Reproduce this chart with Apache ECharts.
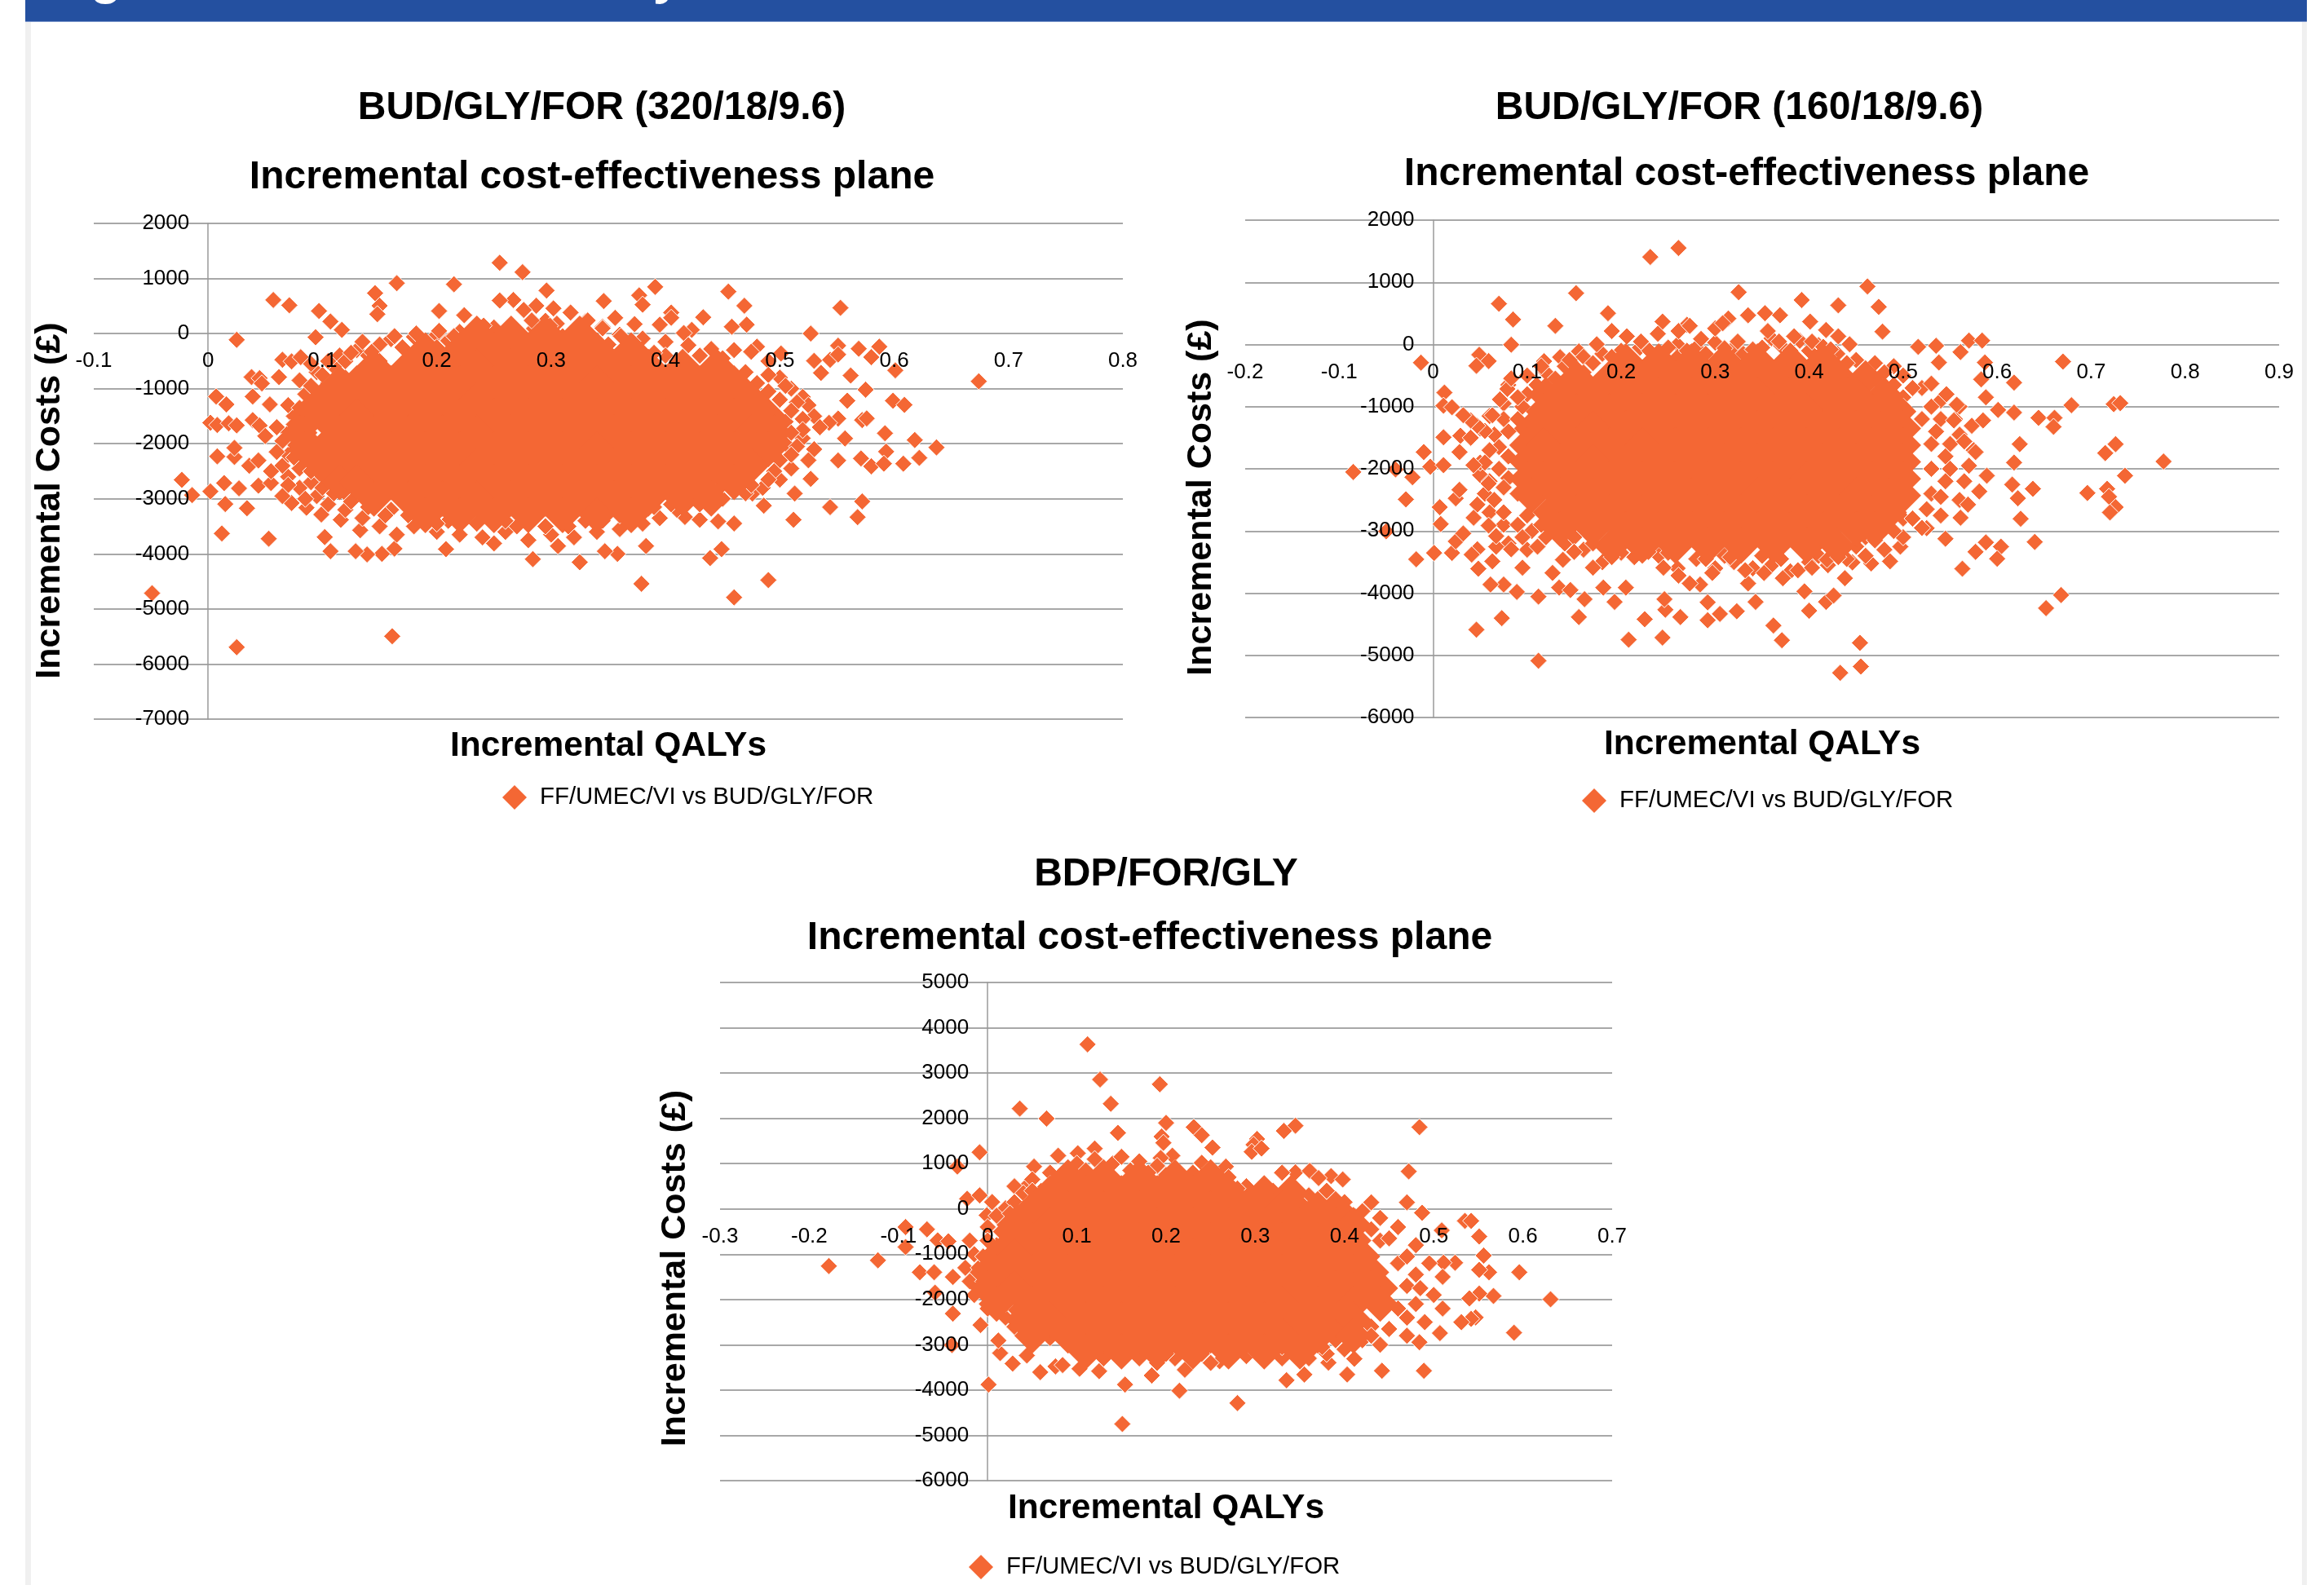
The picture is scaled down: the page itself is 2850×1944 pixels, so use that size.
<!DOCTYPE html>
<html><head><meta charset="utf-8">
<style>html,body{margin:0;padding:0;background:#fff}#c{width:2850px;height:1944px}</style>
<script src="https://cdn.jsdelivr.net/npm/echarts@6/dist/echarts.min.js"></script>
</head><body><div id="c"></div>
<script>
const seriesName = 'FF/UMEC/VI vs BUD/GLY/FOR';
const xTitle = 'Incremental QALYs';
const yTitle = 'Incremental Costs (£)';
const planeTitle = 'Incremental cost-effectiveness plane';
const chartTitles = ['BUD/GLY/FOR (320/18/9.6)', 'BUD/GLY/FOR (160/18/9.6)', 'BDP/FOR/GLY'];

// Individually visible points: [QALY, cost]
const chart1Points = [[.255,1286],[.275,1114],[.165,914],[.215,895],[.146,733],[.296,781],[.391,848],[.377,695],[.455,762],[.057,610],[.071,514],[.469,505],[.553,467],[.097,410],[.267,610],[.255,600],[.287,505],[.346,590],[.302,457],[.317,381],[.276,429],[.202,410],[.15,505],[.148,352],[.38,524],[.405,381],[.405,286],[.107,219],[.224,333],[.356,286],[.433,295],[.373,171],[.395,162],[.471,162],[.458,124],[.423,67],[.416,10],[.527,0],[.117,67],[.025,-114],[.094,-67],[.551,-219],[.569,-276],[.587,-238],[.58,-429],[.501,-362],[.48,-238],[.601,-667],[.674,-867],[.53,-495],[.544,-476],[.551,-381],[.536,-714],[.562,-762],[.065,-476],[.073,-505],[.081,-429],[.038,-790],[.045,-810],[.047,-905],[.062,-790],[.007,-1143],[.016,-1286],[.039,-1143],[.575,-1019],[.559,-1219],[.599,-1219],[.609,-1295],[.572,-1571],[.576,-1540],[.551,-1543],[.543,-1620],[.592,-1810],[.557,-1905],[.618,-1933],[.637,-2067],[.593,-2143],[.622,-2257],[.551,-2305],[.571,-2267],[.58,-2410],[.591,-2362],[.608,-2362],[.527,-2638],[.513,-2905],[.544,-3152],[.572,-3048],[.568,-3333],[.512,-3381],[.486,-3124],[.476,-2905],[.46,-3448],[.446,-3410],[.43,-3380],[.417,-3330],[.439,-4076],[.449,-3914],[.49,-4476],[.46,-4790],[.379,-4543],[.383,-3857],[.358,-4000],[.347,-3952],[.325,-4152],[.306,-3857],[.284,-4095],[.25,-3810],[.208,-3914],[.163,-3905],[.152,-4000],[.139,-4010],[.129,-3952],[.107,-3952],[.102,-3695],[.161,-5495],[.025,-5695],[-.049,-4714],[.053,-3724],[.012,-3629],[.034,-3171],[.015,-3095],[.027,-2810],[.014,-2714],[.002,-2867],[-.023,-2657],[-.014,-2933],[.044,-2762],[.055,-2714],[.036,-2400],[.044,-2305],[.008,-2229],[.023,-2240],[.023,-2076],[.002,-1619],[.008,-1660],[.018,-1630],[.025,-1667],[.054,-1286],[.039,-1570],[.045,-1670],[.05,-1860],[.073,-3076],[.086,-3162],[.099,-3286],[.116,-3381],[.133,-3571],
[.16,-100],[.18,-60],[.2,-20],[.22,30],[.235,160],[.25,110],[.26,40],[.285,90],[.295,230],[.305,180],[.32,60],[.33,220],[.345,120],[.36,-20],[.38,-90],[.4,-150],[.42,-210],[.44,-280],[.46,-300],[.475,-330],[.49,-500],[.5,-800],[.51,-1000],[.52,-1150],[.525,-1300],[.53,-1500],[.535,-1700],[.52,-1900],[.53,-2100],[.525,-2300],[.51,-2450],[.5,-2650],[.485,-2800],[.47,-2900],[.45,-3000],[.43,-3100],[.41,-3200],[.395,-3350],[.38,-3450],[.36,-3550],[.34,-3600],[.32,-3700],[.3,-3650],[.28,-3750],[.26,-3600],[.24,-3700],[.22,-3650],[.2,-3600],[.18,-3500],[.165,-3650],[.15,-3500],[.135,-3350],[.12,-3200],[.105,-3100],[.095,-2950],[.08,-2800],[.07,-2600],[.065,-2400],[.07,-2200],[.075,-2000],[.07,-1800],[.075,-1500],[.07,-1300],[.085,-1100],[.08,-850],[.095,-700],[.11,-600],[.115,-400],[.13,-300],[.15,-200],
[.2,-250],[.25,-150],[.3,-100],[.35,-200],[.4,-400],[.45,-600],[.48,-900],[.5,-1200],[.505,-1600],[.505,-2000],[.5,-2300],[.47,-2600],[.43,-2900],[.38,-3200],[.33,-3400],[.27,-3500],[.21,-3400],[.16,-3200],[.12,-2900],[.1,-2600],[.085,-2300],[.09,-1900],[.09,-1500],[.1,-1100],[.12,-800],[.15,-500],
[.06,-1700],[.065,-1950],[.06,-2150],[.055,-2500],[.07,-2750],[.065,-2950],[.085,-3000],[.09,-2700],[.08,-2450],[.075,-2250],[.085,-2100],[.08,-1900],[.075,-1650],[.09,-1700],[.08,-1350],[.095,-1300],[.09,-950],[.105,-900],[.1,-750],[.115,-750],[.105,-500],[.12,-500],[.09,-550],[.125,-350],[.14,-400],[.135,-150],[.17,-250],[.185,-350],[.19,-150],[.21,-130],[.225,-280],[.24,-50],[.27,-60],[.28,-200],[.31,-50],[.335,-100],[.37,-300],[.39,-350],[.41,-500],[.43,-400],[.45,-450],[.47,-700],[.49,-750],[.46,-800],[.505,-950],[.49,-1050],[.515,-1250],[.51,-1400],[.52,-1550],[.52,-1750],[.51,-1800],[.515,-2050],[.51,-2200],[.495,-2500],[.49,-2650],[.475,-2750],[.46,-2800],[.445,-2850],[.44,-3050],[.42,-3000],[.405,-3100],[.39,-3150],[.375,-3300],[.36,-3300],[.345,-3400],[.315,-3500],[.295,-3500],[.26,-3400],[.235,-3450],[.2,-3450],[.175,-3300],[.155,-3300],[.14,-3150],[.125,-3050],[.11,-2900],[.1,-2800],[.09,-2500],[.095,-2300],[.1,-2100],
[.143,-333],[.163,-48],[.182,0],[.202,48],[.215,-48],[.241,143],[.26,-95],[.283,238],[.299,143],[.319,-48],[.332,238],[.345,95],[.361,-48],[.371,-143]];
const chart2Points = [[.261,1552],[.231,1408],[.462,934],[.152,825],[.325,841],[.392,715],[.07,655],[.431,630],[.474,605],[.085,402],[.186,503],[.244,368],[.27,317],[.13,300],[.314,418],[.335,470],[.353,503],[.369,470],[.401,368],[.418,233],[.478,207],[.516,-38],[.535,-21],[.538,-290],[.561,-122],[.57,63],[.584,63],[.587,-290],[.67,-275],[.583,-562],[.618,-613],[.588,-850],[.679,-977],[.724,-960],[.731,-943],[.644,-1180],[.661,-1180],[.66,-1324],[.601,-1053],[.618,-1095],[.624,-1603],[.726,-1603],[.715,-1747],[.777,-1882],[.736,-2110],[.618,-1899],[.638,-2322],[.616,-2254],[.622,-2474],[.696,-2389],[.717,-2322],[.719,-2449],[.726,-2617],[.72,-2702],[.625,-2803],[.64,-3176],[.604,-3252],[.6,-3446],[.588,-3184],[.577,-3336],[.563,-3607],[.668,-4030],[.652,-4241],[.433,-5282],[.455,-5180],[.454,-4799],[.371,-4757],[.362,-4520],[.4,-4283],[.418,-4140],[.426,-4038],[.323,-4292],[.305,-4334],[.292,-4436],[.292,-4148],[.263,-4385],[.244,-4715],[.225,-4419],[.208,-4749],[.247,-4267],[.246,-4097],[.112,-5087],[.155,-4385],[.073,-4402],[.046,-4588],[.112,-4055],[.089,-3980],[.075,-3861],[.061,-3861],[.048,-3607],[.063,-3488],[-.018,-3455],[.001,-3353],[.02,-3353],[-.05,-3006],[.008,-2888],[.007,-2617],[-.029,-2491],[-.022,-2135],[-.04,-2009],[-.085,-2051],[-.003,-1966],[.011,-1941],[-.01,-1730],[.011,-1493],[.029,-1468],[.028,-1730],[.012,-774],[.011,-985],[-.013,-292],[.049,-165],[.059,-267],[.046,-343],[.083,-4],[.024,-2474],[.028,-2338],[.024,-3167],[.032,-3040],[.047,-3294],[.041,-3379],[.134,-3911],[.146,-3950],[.161,-4097],[.181,-3911],[.193,-4140],[.205,-3911],[.284,-3861],[.335,-3844],[.343,-4140],[.395,-3971],[.438,-3760],[.446,-3505],[.466,-3522],[.486,-3488],[.497,-3252],[.545,-3125],[.525,-2955],[.155,-111],[.135,-204],[.118,-270],[.146,-270],
[.18,-150],[.2,-100],[.22,-50],[.24,-150],[.26,0],[.28,-50],[.3,30],[.32,-50],[.34,-100],[.36,100],[.37,-20],[.39,60],[.41,-10],[.43,-150],[.45,-250],[.47,-300],[.49,-350],[.5,-500],[.52,-700],[.54,-900],[.56,-1000],[.555,-1200],[.56,-1450],[.575,-1700],[.57,-1950],[.565,-2200],[.56,-2500],[.54,-2750],[.52,-2950],[.5,-3100],[.48,-3300],[.46,-3400],[.44,-3450],[.42,-3550],[.4,-3500],[.38,-3650],[.36,-3550],[.34,-3600],[.32,-3500],[.3,-3600],[.28,-3450],[.26,-3600],[.24,-3400],[.22,-3300],[.2,-3350],[.18,-3500],[.16,-3300],[.14,-3200],[.12,-3100],[.1,-3300],[.08,-3200],[.075,-2900],[.06,-2700],[.055,-2400],[.05,-2100],[.05,-1900],[.04,-1500],[.05,-1350],[.06,-1150],[.075,-950],[.08,-650],[.1,-500],[.12,-450],[.14,-350],[.16,-200],
[.2,-350],[.26,-200],[.33,-250],[.42,-350],[.47,-550],[.5,-850],[.52,-1200],[.53,-1600],[.53,-2000],[.53,-2400],[.5,-2800],[.46,-3100],[.4,-3300],[.33,-3350],[.26,-3300],[.19,-3100],[.13,-2800],[.1,-2500],[.08,-2150],[.08,-1800],[.08,-1400],[.095,-1000],[.12,-700],[.16,-450],
[.07,-2000],[.06,-2200],[.065,-2500],[.075,-2700],[.09,-2900],[.105,-3000],[.115,-2900],[.1,-2750],[.09,-2400],[.075,-2300],[.07,-1650],[.06,-1700],[.065,-1450],[.075,-1200],[.09,-1200],[.1,-800],[.09,-850],[.11,-650],[.13,-550],[.115,-350],[.145,-250],[.17,-300],[.19,-200],[.21,-200],[.23,-100],[.25,-50],[.27,-100],[.29,-150],[.31,-60],[.33,-150],[.35,-50],[.38,-100],[.4,-100],[.42,-200],[.44,-300],[.46,-400],[.48,-450],[.49,-650],[.51,-700],[.5,-1000],[.53,-1000],[.54,-1200],[.535,-1400],[.55,-1600],[.545,-1800],[.55,-2000],[.545,-2200],[.54,-2450],[.525,-2650],[.51,-2800],[.49,-3000],[.47,-3150],[.45,-3250],[.43,-3300],[.41,-3400],[.37,-3450],[.35,-3400],[.31,-3400],[.29,-3450],[.25,-3350],[.21,-3200],[.17,-3200],[.15,-3100],[.13,-3000],[.095,-3100],
[.174,4],[.19,216],[.206,131],[.221,47],[.239,173],[.261,216],[.273,300],[.285,89],[.3,258],[.308,342],[.324,47],[.34,-80],[.356,216],[.368,47],[.384,131],[.403,47],[.415,-38],[.423,-80],[.431,131],[.443,4],
[.067,-3252],[.095,-3590],[.111,-3252],[.127,-3675],[.138,-3463],[.15,-3336],[.17,-3590],[.19,-3420],[.214,-3420],[.229,-3336],[.245,-3590],[.261,-3717],[.273,-3844],[.297,-3675],[.316,-3420],[.332,-3632],[.352,-3675],[.372,-3760],[.388,-3632],[.403,-3590],[.419,-3463],[.431,-3420],
[.055,-1391],[.047,-1307],[.04,-1222],[.032,-1138],[.02,-1010],[.063,-1138],[.071,-884],[.079,-715],[.083,-546],[.055,-1899],[.043,-1941],[.059,-2237],[.047,-2575],[.043,-2787],[.059,-2913],[.067,-3082],[.083,-3294],
[.53,-630],[.546,-800],[.557,-969],[.554,-1222],[.573,-1307],[.565,-1560],[.585,-1222],[.577,-1730],[.589,-2110],[.581,-2364],[.569,-2575],[.561,-2787]];
const chart3Points = [[.112,3634],[.126,2857],[.193,2752],[.138,2321],[.036,2216],[.066,1995],[.2,1901],[.146,1680],[.195,1596],[.197,1460],[.231,1806],[.24,1628],[.252,1355],[.345,1838],[.332,1722],[.484,1806],[.302,1544],[.298,1418],[.296,1260],[.307,1334],[-.009,1250],[-.034,934],[.12,1334],[.472,829],[.345,808],[.361,840],[.385,724],[.371,681],[.398,650],[.267,934],[.24,1018],[.207,1176],[.194,1124],[.101,1229],[.079,1176],[.052,934],[.43,145],[.47,145],[.487,-85],[.509,-474],[.535,-264],[.542,-264],[.551,-610],[.556,-1030],[.596,-1398],[.631,-1996],[.567,-1922],[.562,-1398],[.551,-1345],[.551,-1870],[.54,-1975],[.524,-1188],[.511,-1188],[.59,-2733],[.547,-2396],[.542,-2428],[.531,-2501],[.507,-2743],[.484,-2943],[.489,-3573],[.442,-3573],[.411,-3310],[.403,-3657],[.382,-3394],[.355,-3657],[.335,-3783],[.28,-4287],[.215,-4014],[.154,-3878],[.151,-4749],[.184,-3678],[.221,-3552],[.26,-3363],[.001,-3878],[.059,-3605],[.076,-3478],[.084,-3447],[.103,-3531],[.125,-3584],[.028,-3415],[.044,-3237],[.014,-3184],[-.04,-3006],[.012,-2906],[-.008,-2564],[-.039,-2312],[-.059,-1849],[-.076,-1398],[-.06,-1398],[-.039,-1503],[-.123,-1135],[-.092,-841],[-.092,-400],[-.068,-452],[-.178,-1261],[-.056,-694],[-.044,-715],[-.023,225],[-.009,299],[.005,152],[.02,15],[.043,488],[-.001,-140],
[.03,500],[.05,650],[.07,800],[.08,600],[.09,900],[.1,1000],[.12,1100],[.14,1000],[.15,1150],[.17,1050],[.19,950],[.21,900],[.23,800],[.25,900],[.27,700],[.29,500],[.31,450],[.33,800],[.34,500],[.36,300],[.38,400],[.4,150],[.42,-50],[.44,-200],[.46,-400],[.48,-800],[.495,-1200],[.51,-1500],[.5,-1900],[.51,-2200],[.49,-2500],[.47,-2800],[.44,-3000],[.42,-2900],[.4,-3100],[.38,-3200],[.36,-3300],[.33,-3300],[.31,-3350],[.29,-3250],[.27,-3300],[.25,-3400],[.23,-3350],[.21,-3300],[.19,-3400],[.17,-3300],[.15,-3200],[.13,-3300],[.11,-3100],[.09,-3000],[.07,-2850],[.05,-2800],[.03,-2600],[.02,-2400],[0,-2200],[-.015,-1900],[-.02,-1600],[-.025,-1300],[-.015,-1000],[-.02,-700],[0,-400],[.01,-150],[.03,150],[.04,350],
[.06,400],[.1,600],[.14,700],[.2,550],[.26,400],[.33,250],[.4,-200],[.44,-700],[.46,-1200],[.47,-1700],[.46,-2200],[.43,-2600],[.39,-2900],[.33,-3050],[.26,-3100],[.19,-3100],[.12,-2900],[.07,-2500],[.03,-2200],[.01,-1800],[0,-1300],[.01,-800],[.03,-300],
[.05,400],[.07,550],[.09,700],[.11,850],[.13,850],[.16,850],[.18,800],[.2,750],[.22,650],[.24,600],[.26,650],[.28,450],[.3,300],[.32,400],[.35,150],[.37,150],[.39,-50],[.41,-200],[.43,-450],[.45,-650],[.47,-1050],[.48,-1450],[.485,-1750],[.48,-2100],[.47,-2400],[.45,-2650],[.43,-2800],[.41,-2950],[.375,-3050],[.345,-3150],[.3,-3150],[.28,-3100],[.24,-3200],[.2,-3200],[.16,-3100],[.14,-3100],[.1,-2950],[.08,-2700],[.06,-2600],[.045,-2400],[.02,-2100],[.005,-1950],[-.005,-1600],[-.01,-1300],[-.005,-1050],[0,-700],[.015,-500],[.025,-100],[.045,100],[.06,150]];

// The opaque centre of each cloud, where single points cannot be told apart: cost level, QALYs
const chart1Cloud = [[0,[.235,.265,.295,.325]],[-300,[.19,.22,.25,.28,.31,.34,.37]],[-600,[.145,.175,.205,.235,.265,.295,.325,.355,.385,.415,.445]],[-900,[.115,.13,.16,.19,.22,.25,.28,.31,.34,.37,.4,.43,.46]],[-1200,[.1,.115,.145,.175,.205,.235,.265,.295,.325,.355,.385,.415,.445,.475]],[-1500,[.085,.1,.13,.16,.19,.22,.25,.28,.31,.34,.37,.4,.43,.46,.49]],[-1800,[.08,.115,.145,.175,.205,.235,.265,.295,.325,.355,.385,.415,.445,.475,.495]],[-2100,[.085,.1,.13,.16,.19,.22,.25,.28,.31,.34,.37,.4,.43,.46,.49]],[-2400,[.1,.115,.145,.175,.205,.235,.265,.295,.325,.355,.385,.415,.445,.475]],[-2700,[.115,.13,.16,.19,.22,.25,.28,.31,.34,.37,.4,.43,.46]],[-3000,[.145,.175,.205,.235,.265,.295,.325,.355,.385,.415,.44]],[-3300,[.19,.22,.25,.28,.31,.34,.37]]];
const chart2Cloud = [[-270,[.205,.24,.275,.31,.345,.38,.415]],[-540,[.1525,.1875,.2225,.2575,.2925,.3275,.3625,.3975,.4325,.46]],[-810,[.12,.135,.17,.205,.24,.275,.31,.345,.38,.415,.45,.48]],[-1080,[.1175,.1525,.1875,.2225,.2575,.2925,.3275,.3625,.3975,.4325,.4675,.495]],[-1350,[.105,.135,.17,.205,.24,.275,.31,.345,.38,.415,.45,.485,.5]],[-1620,[.1,.1175,.1525,.1875,.2225,.2575,.2925,.3275,.3625,.3975,.4325,.4675,.5]],[-1890,[.1,.135,.17,.205,.24,.275,.31,.345,.38,.415,.45,.485,.5]],[-2160,[.1,.1175,.1525,.1875,.2225,.2575,.2925,.3275,.3625,.3975,.4325,.4675,.5]],[-2430,[.105,.135,.17,.205,.24,.275,.31,.345,.38,.415,.45,.485,.5]],[-2700,[.125,.1525,.1875,.2225,.2575,.2925,.3275,.3625,.3975,.4325,.4675,.485]],[-2970,[.135,.17,.205,.24,.275,.31,.345,.38,.415,.45,.47]],[-3240,[.19,.2225,.2575,.2925,.3275,.3625,.3975,.43]]];
const chart3Cloud = [[700,[.09,.13,.17,.21,.25]],[350,[.07,.11,.15,.19,.23,.27,.31,.34]],[0,[.05,.09,.13,.17,.21,.25,.29,.33,.37,.39]],[-350,[.03,.07,.11,.15,.19,.23,.27,.31,.35,.39,.41]],[-700,[.03,.05,.09,.13,.17,.21,.25,.29,.33,.37,.41]],[-1050,[.01,.03,.07,.11,.15,.19,.23,.27,.31,.35,.39,.42]],[-1400,[0,.01,.05,.09,.13,.17,.21,.25,.29,.33,.37,.41,.43]],[-1750,[0,.03,.07,.11,.15,.19,.23,.27,.31,.35,.39,.43,.44]],[-2100,[.01,.05,.09,.13,.17,.21,.25,.29,.33,.37,.41,.44]],[-2450,[.04,.07,.11,.15,.19,.23,.27,.31,.35,.39,.41]],[-2800,[.05,.09,.13,.17,.21,.25,.29,.33,.37,.41]],[-3150,[.11,.15,.19,.23,.27,.31,.35]]];

const flat = rows => rows.flatMap(([c, qs]) => qs.map(q => [q, c]));
const orange = '#F46734', black = '#000', gridGrey = '#a8a8a8', axisGrey = '#9a9a9a';
const font = '"Liberation Sans", Arial, sans-serif';

const charts = [
 {points: chart1Points, cloud: chart1Cloud, rect: [115, 274, 1262, 608], xr: [-0.1, 0.8], yr: [-7000, 2000],
  t1: [738, 133], t2: [726, 218], xGap: 485, yGap: 173, yShift: 72, leg: [616, 963]},
 {points: chart2Points, cloud: chart2Cloud, rect: [1527, 270, 1268, 610], xr: [-0.2, 0.9], yr: [-6000, 2000],
  t1: [2133, 133], t2: [2142, 214], xGap: 469, yGap: 263, yShift: 70, leg: [1940, 967]},
 {points: chart3Points, cloud: chart3Cloud, rect: [883, 1205, 1094, 611], xr: [-0.3, 0.7], yr: [-6000, 5000],
  t1: [1430, 1073], t2: [1410, 1151], xGap: 346, yGap: 362, yShift: 90, leg: [1188, 1907]}
];

const option = {
 animation: false, backgroundColor: '#fff',
 grid: [], xAxis: [], yAxis: [], series: [], title: [], legend: [],
 graphic: [
  {type:'rect', shape:{x:31,y:27,width:7,height:1917}, style:{fill:'#f0f0f0'}, silent:true},
  {type:'rect', shape:{x:2823,y:27,width:6,height:1917}, style:{fill:'#f0f0f0'}, silent:true},
  {type:'rect', shape:{x:31,y:0,width:2798,height:26}, style:{fill:'#2450A0'}, silent:true},
  {type:'rect', shape:{x:31,y:26,width:2798,height:1}, style:{fill:'#7b96cb'}, silent:true},
  {type:'text', x:130, y:6, z:5, style:{text:'g', fill:'#fff', font:'bold 62px '+font, textAlign:'center', textVerticalAlign:'bottom'}, silent:true},
  {type:'text', x:818, y:6, z:5, style:{text:'y', fill:'#fff', font:'bold 62px '+font, textAlign:'center', textVerticalAlign:'bottom'}, silent:true}
 ]
};

const n = charts.length;
charts.forEach((c, i) => {
 const [l, t, w, h] = c.rect;
 const gridBase = {left: l, top: t, width: w, height: h, containLabel: false, outerBoundsMode: 'none'};
 // Axes cross at zero: both offsets are worked out from the axis ranges.
 const xOffset = c.yr[0] / (c.yr[1] - c.yr[0]) * h;
 const yOffset = c.xr[0] / (c.xr[1] - c.xr[0]) * w;
 // Grid i+n draws only the gridlines and the vertical zero line, beneath the points.
 // Grid i holds the points and the tick labels and titles drawn above them.
 option.grid[i] = {...gridBase};
 option.grid[i + n] = {...gridBase};
 option.xAxis[i + n] = {type:'value', gridIndex:i + n, min:c.xr[0], max:c.xr[1], interval:0.1, z:0,
   axisLine:{show:false}, axisTick:{show:false}, axisLabel:{show:false}, splitLine:{show:false}};
 option.yAxis[i + n] = {type:'value', gridIndex:i + n, min:c.yr[0], max:c.yr[1], interval:1000, z:0,
   offset: yOffset,
   axisLine:{show:true, onZero:false, lineStyle:{color:axisGrey, width:1.5}}, axisTick:{show:false}, axisLabel:{show:false},
   splitLine:{show:true, lineStyle:{color:gridGrey, width:2, type:'solid'}}};
 option.xAxis[i] = {type:'value', gridIndex:i, position:'bottom', offset:xOffset, min:c.xr[0], max:c.xr[1], interval:0.1, z:6,
   axisLine:{show:false, onZero:false}, axisTick:{show:false}, splitLine:{show:false},
   axisLabel:{show:true, color:black, fontFamily:font, fontSize:26, margin:21, hideOverlap:false},
   name:xTitle, nameLocation:'middle', nameGap:c.xGap, nameTextStyle:{color:black, fontFamily:font, fontWeight:'bold', fontSize:42.5}};
 option.yAxis[i] = {type:'value', gridIndex:i, position:'left', offset:yOffset, min:c.yr[0], max:c.yr[1], interval:1000, z:6,
   axisLine:{show:false, onZero:false}, axisTick:{show:false}, splitLine:{show:false},
   axisLabel:{show:true, color:black, fontFamily:font, fontSize:26, margin:23, hideOverlap:false, formatter:v => String(v)},
   name:yTitle, nameLocation:'middle', nameGap:c.yGap, nameRotate:90,
   nameTextStyle:{color:black, fontFamily:font, fontWeight:'bold', fontSize:43, padding:[0,c.yShift,0,0]}};
 option.series.push({type:'scatter', name:seriesName, xAxisIndex:i, yAxisIndex:i, symbol:'diamond', symbolSize:21,
   data:c.points, z:2, silent:true, itemStyle:{color:orange, borderColor:'#fff', borderWidth:1, opacity:1}});
 option.series.push({type:'scatter', name:seriesName, xAxisIndex:i, yAxisIndex:i, symbol:'diamond', symbolSize:44,
   data:flat(c.cloud), z:3, silent:true, itemStyle:{color:orange, opacity:1}});
 [[chartTitles[i], c.t1], [planeTitle, c.t2]].forEach(([text, p]) => option.title.push({
   text, left:p[0], top:p[1]-24, textAlign:'center', padding:0, textStyle:{color:black, fontFamily:font, fontWeight:'bold', fontSize:48}}));
 option.legend.push({left:c.leg[0], top:c.leg[1], data:[seriesName], icon:'diamond', itemWidth:30, itemHeight:30, selectedMode:false, padding:0,
   itemStyle:{borderWidth:0, color:orange}, textStyle:{color:black, fontFamily:font, fontSize:29.4, padding:[0,0,0,11]}});
});

echarts.init(document.getElementById('c'), null, {renderer:'canvas', width:2850, height:1944}).setOption(option);
</script>
</body></html>
